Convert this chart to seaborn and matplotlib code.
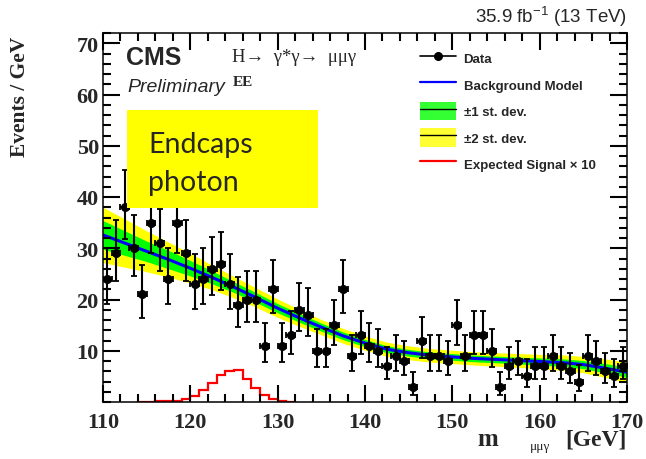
import numpy as np
import matplotlib
matplotlib.use("Agg")
import matplotlib.pyplot as plt
import seaborn as sns
from matplotlib.lines import Line2D
from matplotlib.patches import Patch, Rectangle
from matplotlib.ticker import MultipleLocator

# Observed events per 1 GeV bin (bin centres 110.5 ... 169.5)
mass_centres = np.arange(110.5, 170.0, 1.0)
data_counts = [24, 29, 38, 30, 21, 35, 31, 24, 35, 29,
               23, 24, 26, 27, 23, 19, 20, 20, 11, 22,
               11, 13, 18, 17, 10, 10, 15, 22, 9, 13,
               11, 10, 7, 9, 8, 3, 12, 9, 9, 8,
               15, 9, 13, 13, 10, 3, 7, 8, 5, 7,
               7, 9, 7, 6, 4, 9, 8, 6, 5, 7]

# Background model and its uncertainty, sampled every 2.5 GeV
bkg_mass = np.arange(110.0, 170.01, 2.5)
bkg_model = [32.6, 31.0, 29.4, 27.8, 26.1, 24.3, 22.4, 20.4, 18.3, 16.4,
             14.6, 12.9, 11.5, 10.3, 9.6, 9.1, 8.8, 8.5, 8.3, 8.1,
             7.9, 7.7, 7.3, 6.6, 5.8]
bkg_1sd = [2.8, 2.4, 2.0, 1.8, 1.5, 1.25, 1.05, 0.95, 0.9, 0.85,
           0.8, 0.75, 0.7, 0.68, 0.66, 0.65, 0.65, 0.65, 0.65, 0.66,
           0.7, 0.74, 0.8, 0.9, 1.0]
bkg_2sd = [5.4, 4.7, 4.0, 3.4, 2.9, 2.4, 2.1, 1.9, 1.8, 1.65,
           1.5, 1.45, 1.4, 1.38, 1.35, 1.32, 1.3, 1.3, 1.32, 1.36,
           1.4, 1.5, 1.6, 1.8, 2.0]

# Expected signal (scaled by 10), 1 GeV bins from 114 to 132 GeV
signal_edges = np.arange(114.0, 132.5, 1.0)
signal_x10 = [0.03, 0.05, 0.1, 0.15, 0.2, 0.5, 1.2, 2.4, 3.7, 5.3,
              6.1, 6.3, 4.4, 2.8, 1.4, 0.6, 0.2, 0.05]

x_ticks = [110, 120, 130, 140, 150, 160, 170]
y_ticks = [10, 20, 30, 40, 50, 60, 70]
x_range = (110, 170)
y_range = (0, 72)

sns.set_theme(style="ticks")
plt.rcParams["font.family"] = ["Liberation Sans", "DejaVu Sans"]

W, H = 646, 460
fig = plt.figure(figsize=(W / 100, H / 100), dpi=100)
ax_l, ax_r, ax_t, ax_b = 103, 627, 34, 403
rect = [ax_l / W, 1 - ax_b / H, (ax_r - ax_l) / W, (ax_b - ax_t) / H]
ax = fig.add_axes(rect)

m = np.asarray(bkg_model)
s1 = np.asarray(bkg_1sd)
s2 = np.asarray(bkg_2sd)
ax.fill_between(bkg_mass, m - s2, m + s2, color="#ffff00", lw=0, zorder=1)
ax.fill_between(bkg_mass, m - s1, m + s1, color="#00ff00", lw=0, zorder=2)
sns.lineplot(x=bkg_mass, y=bkg_model, color="#0000ff", lw=2.2, ax=ax, zorder=3)

ax.stairs(signal_x10, signal_edges, color="#ff0000", lw=1.6, zorder=4)

# Poisson 68% intervals (Wilson-Hilferty approximation)
n = np.asarray(data_counts, float)
err_lo = n - n * (1 - 1 / (9 * n) - 1 / (3 * np.sqrt(n))) ** 3
err_hi = (n + 1) * (1 - 1 / (9 * (n + 1)) + 1 / (3 * np.sqrt(n + 1))) ** 3 - n
ax.errorbar(mass_centres, n, yerr=[err_lo, err_hi], xerr=0.5, fmt="o",
            color="black", ms=5.5, elinewidth=1.5, capsize=2.2, capthick=1.3,
            zorder=5)

ax.set_xlim(*x_range)
ax.set_ylim(*y_range)
ax.set_xlabel("")
ax.set_ylabel("")
ax.set_xticks([])
ax.set_yticks([])
for sp in ax.spines.values():
    sp.set_visible(False)

# Transparent frame on top carrying the axes, ticks and tick labels
frame = fig.add_axes(rect, facecolor="none", zorder=ax.get_zorder() + 1)
frame.set_xlim(*x_range)
frame.set_ylim(*y_range)
frame.set_xticks(x_ticks)
frame.set_yticks(y_ticks)
frame.xaxis.set_minor_locator(MultipleLocator(2))
frame.yaxis.set_minor_locator(MultipleLocator(2))
frame.tick_params(which="both", direction="in", top=True, right=True,
                  color="black", width=1.5, length=12)
frame.tick_params(which="minor", length=6)
frame.tick_params(axis="x", which="major", pad=7)
frame.tick_params(axis="y", which="major", pad=3)
for lab in frame.get_xticklabels() + frame.get_yticklabels():
    lab.set_fontfamily("Liberation Serif")
    lab.set_fontweight("bold")
    lab.set_fontsize(16)
for sp in frame.spines.values():
    sp.set_color("black")
    sp.set_linewidth(1.1)

serif = ["Liberation Serif", "DejaVu Serif"]

# Axis titles
fig.text(20 / W, 1 - 37 / H, "Events / GeV", rotation=90, ha="center", va="top",
         family=serif, weight="bold", fontsize=15.5)
fig.text(627 / W, 1 - 446 / H, "[GeV]", ha="right", va="baseline",
         family=serif, weight="bold", fontsize=17)
fig.text(550 / W, 1 - 450 / H, "μμγ", ha="right", va="baseline",
         family=serif, fontsize=9.5)
fig.text(498 / W, 1 - 446 / H, "m", ha="right", va="baseline",
         family=serif, weight="bold", fontsize=18)

# Header texts
fig.text(627 / W, 1 - 17 / H, r"35.9 fb$^{\mathregular{-1}}$ (13 TeV)",
         ha="right", va="center", fontsize=13.5)
fig.text(126 / W, 1 - 58 / H, "CMS", ha="left", va="center",
         fontsize=18, weight="bold")
fig.text(127 / W, 1 - 87 / H, "Preliminary", ha="left", va="center",
         fontsize=14, style="italic")
fig.text(232 / W, 1 - 58 / H, "H→  γ*γ→  μμγ", ha="left", va="center",
         family=serif, fontsize=13.5)
fig.text(233 / W, 1 - 82 / H, "EE", ha="left", va="center",
         family=serif, weight="bold", fontsize=11)

# Category box
def to_axes(px, py):
    return (px - ax_l) / (ax_r - ax_l), (ax_b - py) / (ax_b - ax_t)

bx0, by0 = to_axes(127, 209)
bx1, by1 = to_axes(318, 111)
ax.add_patch(Rectangle((bx0, by0), bx1 - bx0, by1 - by0, transform=ax.transAxes,
                       facecolor="#ffff00", edgecolor="none", zorder=8,
                       clip_on=False))
tx, ty1 = to_axes(148, 145)
_, ty2 = to_axes(148, 183)
ax.text(tx, ty1, "Endcaps", transform=ax.transAxes, ha="left", va="center",
        family=["Lato", "DejaVu Sans"], fontsize=20.5, zorder=9)
ax.text(tx, ty2, "photon", transform=ax.transAxes, ha="left", va="center",
        family=["Lato", "DejaVu Sans"], fontsize=20.5, zorder=9)

# Legend
handles = [
    Line2D([], [], color="black", lw=1.2, marker="o", ms=5.5),
    Line2D([], [], color="#0000ff", lw=1.6),
    (Patch(facecolor="#33ff33", edgecolor="none"), Line2D([], [], color="black", lw=1.0)),
    (Patch(facecolor="#ffff33", edgecolor="none"), Line2D([], [], color="black", lw=1.0)),
    Line2D([], [], color="#ff0000", lw=1.6),
]
labels = ["Data", "Background Model", "±1 st. dev.", "±2 st. dev.",
          "Expected Signal × 10"]
lx, ly = to_axes(420, 50)
leg = frame.legend(handles, labels, loc="upper left", bbox_to_anchor=(lx, ly),
                   frameon=False, borderpad=0, borderaxespad=0,
                   handlelength=2.7, handleheight=1.75, labelspacing=0.62,
                   handletextpad=0.6,
                   prop={"family": "Liberation Sans", "weight": "bold", "size": 9.5})

fig.savefig("out.png", dpi=100)
